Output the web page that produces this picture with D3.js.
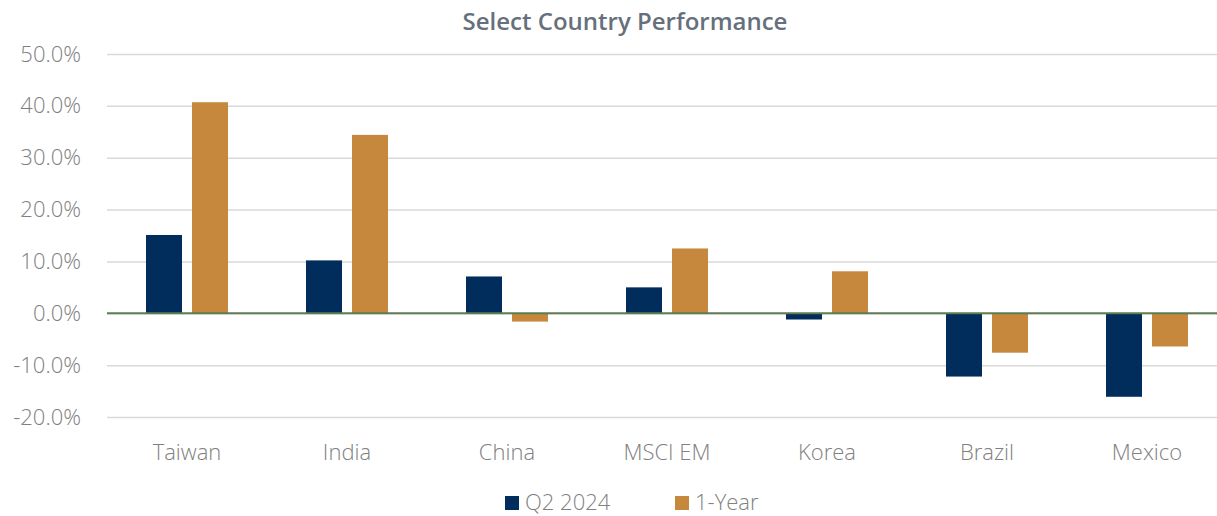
<!DOCTYPE html>
<html>
<head>
<meta charset="utf-8">
<script src="https://cdn.jsdelivr.net/npm/d3@7"></script>
<style>
  body { margin: 0; background: #fff; }
  svg { display: block; font-family: "Open Sans", "Noto Sans", sans-serif; }
  .tick text { fill: #808080; font-size: 22px; font-weight: 300; font-family: "Open Sans", "Noto Sans", sans-serif; }
  .title { fill: #66707c; font-size: 24px; font-weight: 600; }
  .legend text { fill: #808080; font-size: 22px; font-weight: 300; }
</style>
</head>
<body>
<svg></svg>
<script>
// ---------- data ----------
var countries = ["Taiwan", "India", "China", "MSCI EM", "Korea", "Brazil", "Mexico"];
var seriesNames = ["Q2 2024", "1-Year"];
var q2Values = [15.1, 10.2, 7.1, 5.0, -1.2, -12.2, -16.1];
var yearValues = [40.7, 34.4, -1.6, 12.5, 8.1, -7.6, -6.4];
var yTicks = [-20, -10, 0, 10, 20, 30, 40, 50];
var colors = ["#002d5c", "#c5883d"];

var screen = {width: 1217, height: 516};
var margins = {left: 107, right: -10, top: 54, bottom: 99};
var graph = {
  width: screen.width - margins.left - margins.right,
  height: screen.height - margins.top - margins.bottom
};

var svg = d3.select("svg")
  .attr("width", screen.width)
  .attr("height", screen.height);

var xScale = d3.scaleBand()
  .domain(countries)
  .range([0, graph.width])
  .paddingInner(0.4875)
  .paddingOuter(0.24375);
// groups are 160 wide, bars 36 with a 10px gap
var xInner = d3.scaleBand()
  .domain(seriesNames)
  .range([0, 82])
  .paddingInner(10 / 46);

var yScale = d3.scaleLinear()
  .domain([-20, 50])
  .range([graph.height, 0]);

var target = svg.append("g")
  .attr("transform", "translate(" + margins.left + "," + margins.top + ")");

// gridlines
var yAxis = d3.axisLeft(yScale)
  .tickValues(yTicks)
  .tickSize(-graph.width)
  .tickPadding(10)
  .tickFormat(function (d) { return d.toFixed(1) + "%"; });

var yG = target.append("g").attr("class", "y axis").call(yAxis);
yG.select(".domain").remove();
yG.selectAll(".tick line")
  .attr("stroke", "#d9d9d9")
  .attr("stroke-width", 1.5);
yG.selectAll(".tick text").attr("x", -26);

// bars
var rows = countries.map(function (c, i) {
  return {country: c, values: [q2Values[i], yearValues[i]]};
});
var groups = target.selectAll(".grp")
  .data(rows)
  .enter()
  .append("g")
  .attr("class", "grp")
  .attr("transform", function (d) {
    return "translate(" + (xScale(d.country) + xScale.bandwidth() / 2 - 41) + ",0)";
  });

groups.selectAll("rect")
  .data(function (d) {
    return d.values.map(function (v, j) { return {name: seriesNames[j], value: v, j: j}; });
  })
  .enter()
  .append("rect")
  .attr("x", function (d) { return xInner(d.name); })
  .attr("width", xInner.bandwidth())
  .attr("y", function (d) { return yScale(Math.max(0, d.value)); })
  .attr("height", function (d) { return Math.abs(yScale(d.value) - yScale(0)); })
  .attr("fill", function (d) { return colors[d.j]; });

// zero line
target.append("line")
  .attr("x1", 0)
  .attr("x2", graph.width)
  .attr("y1", yScale(0))
  .attr("y2", yScale(0))
  .attr("stroke", "#5b7d52")
  .attr("stroke-width", 2);

// category labels
target.selectAll(".cat")
  .data(countries)
  .enter()
  .append("text")
  .attr("class", "cat")
  .attr("x", function (d) { return xScale(d) + xScale.bandwidth() / 2; })
  .attr("y", yScale(-20) + 43)
  .attr("text-anchor", "middle")
  .attr("fill", "#808080")
  .style("font-size", "22px")
  .style("font-weight", 300)
  .text(function (d) { return d; });

// title
svg.append("text")
  .attr("class", "title")
  .attr("x", 625)
  .attr("y", 30)
  .attr("text-anchor", "middle")
  .text("Select Country Performance");

// legend
var legendX = [505, 675];
var legend = svg.append("g").attr("class", "legend");
var items = legend.selectAll("g")
  .data(seriesNames)
  .enter()
  .append("g")
  .attr("transform", function (d, i) { return "translate(" + legendX[i] + ",496)"; });
items.append("rect")
  .attr("width", 14)
  .attr("height", 14)
  .attr("fill", function (d, i) { return colors[i]; });
items.append("text")
  .attr("x", 20)
  .attr("y", 14)
  .text(function (d) { return d; });
</script>
</body>
</html>
